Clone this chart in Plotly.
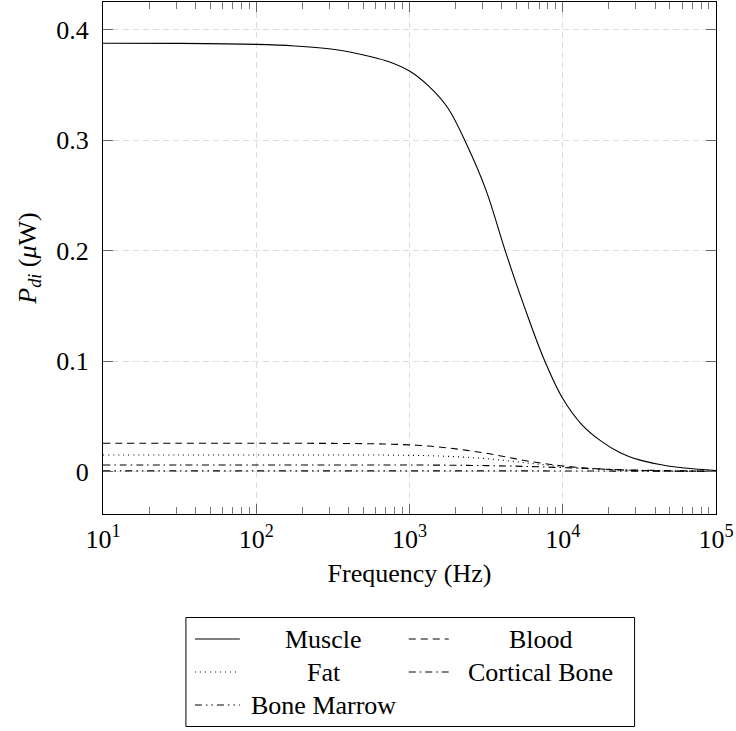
import plotly.graph_objects as go

# ---------------- data ----------------
freq = [10, 31.6, 100, 178, 316, 562, 750, 1000, 1330, 1780, 2370, 3160,
        4220, 5620, 7500, 10000, 13300, 17800, 23700, 31600, 42200, 56200,
        100000]

muscle = [0.3877, 0.3875, 0.3866, 0.3852, 0.3823, 0.3755, 0.3705, 0.3625,
          0.3490, 0.3290, 0.2955, 0.2545, 0.1995, 0.1490, 0.1025, 0.0660,
          0.0425, 0.0275, 0.0170, 0.0105, 0.0065, 0.0038, 0.0008]

blood = [0.0255, 0.0255, 0.0255, 0.0255, 0.0254, 0.0251, 0.0247, 0.0241,
         0.0230, 0.0213, 0.0191, 0.0165, 0.0133, 0.0100, 0.0072, 0.0050,
         0.0034, 0.0022, 0.0014, 0.0009, 0.0006, 0.0004, 0.0002]

fat = [0.0149, 0.0149, 0.0149, 0.0149, 0.0149, 0.0149, 0.0148, 0.0146,
       0.0143, 0.0137, 0.0128, 0.0116, 0.0099, 0.0080, 0.0061, 0.0043,
       0.0029, 0.0019, 0.0012, 0.0008, 0.0005, 0.0003, 0.0001]

cortical = [0.0059, 0.0059, 0.0059, 0.0059, 0.0059, 0.0059, 0.0058, 0.0058,
            0.0058, 0.0057, 0.0055, 0.0053, 0.0050, 0.0046, 0.0041, 0.0035,
            0.0029, 0.0022, 0.0016, 0.0012, 0.0009, 0.0006, 0.0003]

marrow = [0.0005, 0.0005, 0.0005, 0.0005, 0.0005, 0.0005, 0.0005, 0.0005,
          0.0005, 0.0005, 0.0005, 0.0005, 0.0005, 0.0005, 0.0005, 0.0004,
          0.0004, 0.0004, 0.0003, 0.0003, 0.0003, 0.0002, 0.0002]

series_names = ["Muscle", "Blood", "Fat", "Cortical Bone", "Bone Marrow"]
series_values = [muscle, blood, fat, cortical, marrow]

x_tickvals = [10, 100, 1000, 10000, 100000]
x_ticktext = ["10<sup>1</sup>", "10<sup>2</sup>", "10<sup>3</sup>",
              "10<sup>4</sup>", "10<sup>5</sup>"]
y_tickvals = [0, 0.1, 0.2, 0.3, 0.4]
y_ticktext = ["0", "0.1", "0.2", "0.3", "0.4"]

# ---------------- styling ----------------
W, H = 736, 731
PL, PR, PT, PB = 103, 716.5, 2, 514          # plot area in pixels
FONT = "Liberation Serif"
FS = 26
dashes = ["solid", "7px,5px", "1px,4px", "7px,4px,1.5px,4px",
          "7px,4px,1.5px,4px,1.5px,4px"]

fig = go.Figure()
for name, vals, d in zip(series_names, series_values, dashes):
    fig.add_trace(go.Scatter(x=freq, y=vals, mode="lines", name=name,
                             line=dict(color="black", width=1.1, dash=d,
                                       shape="spline", smoothing=1.0),
                             showlegend=False))

minor_vals = [m * 10 ** k for k in range(1, 5) for m in range(2, 10)]

fig.update_layout(
    width=W, height=H,
    margin=dict(l=PL, r=W - PR, t=PT, b=H - PB),
    paper_bgcolor="white", plot_bgcolor="white",
    font=dict(family=FONT, size=FS, color="black"),
    showlegend=False,
    xaxis=dict(
        type="log", range=[1, 5],
        tickmode="array", tickvals=x_tickvals, ticktext=x_ticktext,
        ticks="inside", ticklen=10, tickcolor="#666666", tickwidth=1,
        showline=True, linecolor="black", linewidth=1, mirror="ticks",
        showgrid=True, gridcolor="#dcdcdc", gridwidth=1, griddash="6px,4px",
        zeroline=False,
        minor=dict(tickmode="array", tickvals=minor_vals, ticks="inside",
                   ticklen=7, tickcolor="#777777", tickwidth=1,
                   showgrid=False),
        ticklabelstandoff=2,
        tickfont=dict(family=FONT, size=FS),
        title=dict(text="Frequency (Hz)", standoff=10,
                   font=dict(family=FONT, size=FS)),
    ),
    yaxis=dict(
        range=[-0.0385, 0.425],
        tickmode="array", tickvals=y_tickvals, ticktext=y_ticktext,
        ticks="inside", ticklen=10, tickcolor="#666666", tickwidth=1,
        showline=True, linecolor="black", linewidth=1, mirror="ticks",
        showgrid=True, gridcolor="#dcdcdc", gridwidth=1, griddash="6px,4px",
        zeroline=False,
        ticklabelstandoff=8,
        tickfont=dict(family=FONT, size=FS),
        title=dict(text="<i>P</i><sub><i>di</i></sub> (<i>μ</i>W)",
                   standoff=12, font=dict(family=FONT, size=FS)),
    ),
)

# ---------------- legend (drawn as a boxed two-column table) ----------------
def px_x(px):
    return (px - PL) / (PR - PL)

def px_y(py):
    return (PB - py) / (PB - PT)

box = dict(x0=186, x1=635, y0=617.5, y1=726.5)
fig.add_shape(type="rect", xref="paper", yref="paper",
              x0=px_x(box["x0"]), x1=px_x(box["x1"]),
              y0=px_y(box["y1"]), y1=px_y(box["y0"]),
              line=dict(color="black", width=1), fillcolor="white")

rows_y = [639, 672, 705]
cols = [(195, 240, 324), (409, 449, 541)]
for i, (name, d) in enumerate(zip(series_names, dashes)):
    r, c = divmod(i, 2)
    sx0, sx1, tx = cols[c]
    yy = rows_y[r]
    fig.add_shape(type="line", xref="paper", yref="paper",
                  x0=px_x(sx0), x1=px_x(sx1), y0=px_y(yy), y1=px_y(yy),
                  line=dict(color="black", width=1.1, dash=d))
    fig.add_annotation(xref="paper", yref="paper", x=px_x(tx), y=px_y(yy),
                       text=name, showarrow=False, xanchor="center",
                       yanchor="middle",
                       font=dict(family=FONT, size=FS, color="black"))

fig.write_html("out.html")
